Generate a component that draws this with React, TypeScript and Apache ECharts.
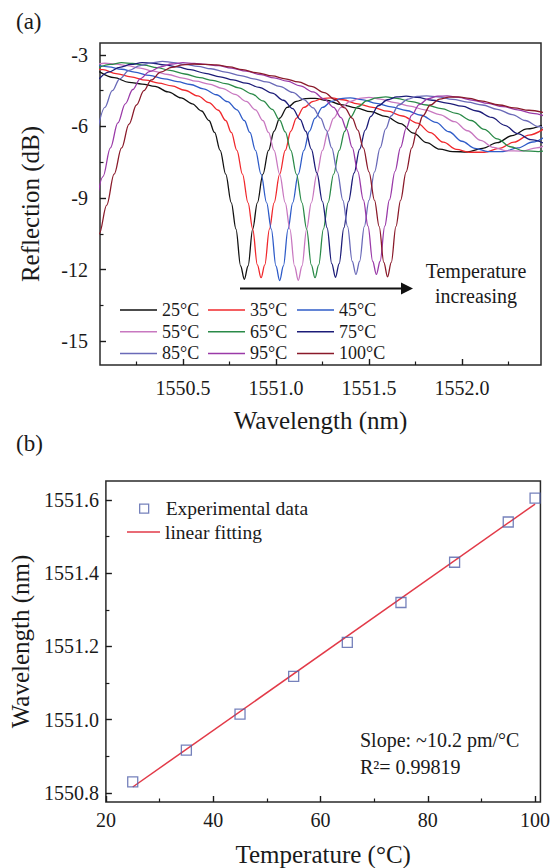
import React, { useEffect, useRef } from "react";
import * as echarts from "echarts";

// ---------- Data: panel (a) reflection spectra ----------
const TEMP_LABELS = ["25°C", "35°C", "45°C", "55°C", "65°C", "75°C", "85°C", "95°C", "100°C"];
const TEMP_COLORS = ["#111111", "#f0282c", "#2f5cc8", "#c878c0", "#2a8a48", "#1c1c78", "#6a6ab8", "#9a3aa8", "#8a1a2a"];

const S25: number[][] = [
  [1550.05, -3.7], [1550.13, -3.95], [1550.21, -4.15], [1550.28, -4.22], [1550.35, -4.32], [1550.42, -4.55],
  [1550.49, -4.8], [1550.55, -5.05], [1550.6, -5.35], [1550.64, -5.75], [1550.67, -6.25], [1550.7, -7.0],
  [1550.73, -8.0], [1550.76, -9.2], [1550.785, -10.3], [1550.81, -11.85], [1550.83, -12.41], [1550.85, -11.85],
  [1550.875, -10.3], [1550.9, -9.2], [1550.93, -8.0], [1550.96, -7.0], [1550.99, -6.2], [1551.02, -5.65],
  [1551.06, -5.2], [1551.11, -4.95], [1551.16, -4.83], [1551.21, -4.82], [1551.27, -4.9], [1551.35, -5.08],
  [1551.43, -5.22], [1551.51, -5.38], [1551.59, -5.58], [1551.67, -5.88], [1551.74, -6.28], [1551.81, -6.68],
  [1551.88, -6.95], [1551.95, -7.05], [1552.03, -7.07], [1552.11, -6.92], [1552.19, -6.68], [1552.27, -6.38],
  [1552.35, -6.1], [1552.43, -5.95],
];
const S35: number[][] = [
  [1550.0, -3.5], [1550.07, -3.62], [1550.14, -3.78], [1550.22, -3.92], [1550.3, -4.06], [1550.37, -4.18],
  [1550.44, -4.3], [1550.51, -4.48], [1550.58, -4.72], [1550.64, -5.0], [1550.69, -5.32], [1550.73, -5.75],
  [1550.76, -6.25], [1550.79, -7.0], [1550.82, -8.0], [1550.85, -9.2], [1550.875, -10.3], [1550.9, -11.8],
  [1550.92, -12.34], [1550.94, -11.8], [1550.965, -10.3], [1550.99, -9.2], [1551.02, -8.0], [1551.05, -7.0],
  [1551.08, -6.2], [1551.11, -5.65], [1551.15, -5.2], [1551.2, -4.95], [1551.25, -4.83], [1551.3, -4.8],
  [1551.36, -4.88], [1551.44, -5.05], [1551.52, -5.2], [1551.6, -5.36], [1551.68, -5.56], [1551.76, -5.86],
  [1551.83, -6.26], [1551.9, -6.66], [1551.97, -6.96], [1552.04, -7.08], [1552.12, -7.08], [1552.2, -6.92],
  [1552.28, -6.66], [1552.36, -6.36], [1552.44, -6.1],
];
const S45: number[][] = [
  [1550.04, -3.42], [1550.1, -3.5], [1550.17, -3.6], [1550.24, -3.72], [1550.32, -3.86], [1550.4, -4.0],
  [1550.47, -4.12], [1550.54, -4.24], [1550.61, -4.42], [1550.68, -4.67], [1550.74, -4.96], [1550.79, -5.3],
  [1550.83, -5.75], [1550.86, -6.25], [1550.89, -7.0], [1550.92, -8.0], [1550.95, -9.2], [1550.975, -10.3],
  [1551.0, -11.85], [1551.02, -12.46], [1551.04, -11.85], [1551.065, -10.3], [1551.09, -9.2], [1551.12, -8.0],
  [1551.15, -7.0], [1551.18, -6.2], [1551.21, -5.65], [1551.25, -5.2], [1551.3, -4.95], [1551.35, -4.83],
  [1551.4, -4.8], [1551.46, -4.87], [1551.54, -5.03], [1551.62, -5.18], [1551.7, -5.33], [1551.78, -5.53],
  [1551.86, -5.83], [1551.93, -6.22], [1552.0, -6.62], [1552.07, -6.92], [1552.14, -7.05], [1552.22, -7.05],
  [1552.3, -6.9], [1552.38, -6.65], [1552.46, -6.35],
];
const S55: number[][] = [
  [1550.02, -3.42], [1550.08, -3.35], [1550.14, -3.38], [1550.2, -3.45], [1550.27, -3.55], [1550.34, -3.68],
  [1550.42, -3.82], [1550.5, -3.97], [1550.57, -4.1], [1550.64, -4.22], [1550.71, -4.4], [1550.78, -4.65],
  [1550.84, -4.95], [1550.89, -5.3], [1550.93, -5.75], [1550.96, -6.25], [1550.99, -7.0], [1551.02, -8.0],
  [1551.05, -9.2], [1551.075, -10.3], [1551.1, -11.85], [1551.12, -12.45], [1551.14, -11.85], [1551.165, -10.3],
  [1551.19, -9.2], [1551.22, -8.0], [1551.25, -7.0], [1551.28, -6.2], [1551.31, -5.65], [1551.35, -5.2],
  [1551.4, -4.95], [1551.45, -4.82], [1551.5, -4.78], [1551.56, -4.85], [1551.64, -5.0], [1551.72, -5.15],
  [1551.8, -5.3], [1551.88, -5.5], [1551.96, -5.8], [1552.03, -6.18], [1552.1, -6.58], [1552.17, -6.88],
  [1552.24, -7.02], [1552.32, -7.03], [1552.4, -6.9], [1552.48, -6.65],
];
const S65: number[][] = [
  [1550.05, -3.52], [1550.11, -3.4], [1550.17, -3.32], [1550.23, -3.36], [1550.29, -3.43], [1550.36, -3.53],
  [1550.43, -3.65], [1550.51, -3.8], [1550.59, -3.95], [1550.66, -4.07], [1550.73, -4.2], [1550.8, -4.38],
  [1550.87, -4.63], [1550.93, -4.93], [1550.98, -5.28], [1551.02, -5.73], [1551.05, -6.23], [1551.08, -7.0],
  [1551.11, -8.0], [1551.14, -9.2], [1551.165, -10.3], [1551.19, -11.8], [1551.21, -12.34], [1551.23, -11.8],
  [1551.255, -10.3], [1551.28, -9.2], [1551.31, -8.0], [1551.34, -7.0], [1551.37, -6.2], [1551.4, -5.62],
  [1551.44, -5.17], [1551.49, -4.92], [1551.54, -4.8], [1551.59, -4.76], [1551.65, -4.82], [1551.73, -4.96],
  [1551.81, -5.1], [1551.89, -5.25], [1551.97, -5.45], [1552.05, -5.75], [1552.12, -6.12], [1552.19, -6.52],
  [1552.26, -6.85], [1552.33, -7.02], [1552.41, -7.05], [1552.49, -6.95],
];
const S75: number[][] = [
  [1550.05, -4.0], [1550.1, -3.72], [1550.16, -3.52], [1550.22, -3.4], [1550.28, -3.32], [1550.34, -3.35],
  [1550.4, -3.42], [1550.47, -3.5], [1550.54, -3.62], [1550.62, -3.77], [1550.7, -3.92], [1550.77, -4.05],
  [1550.84, -4.18], [1550.91, -4.36], [1550.98, -4.6], [1551.04, -4.9], [1551.09, -5.25], [1551.13, -5.7],
  [1551.16, -6.2], [1551.19, -6.95], [1551.22, -7.95], [1551.25, -9.15], [1551.275, -10.25], [1551.3, -11.75],
  [1551.32, -12.32], [1551.34, -11.75], [1551.365, -10.25], [1551.39, -9.15], [1551.42, -7.95], [1551.45, -6.95],
  [1551.48, -6.15], [1551.51, -5.58], [1551.55, -5.13], [1551.6, -4.88], [1551.65, -4.76], [1551.7, -4.73],
  [1551.76, -4.78], [1551.84, -4.9], [1551.92, -5.02], [1552.0, -5.15], [1552.08, -5.35], [1552.16, -5.62],
  [1552.23, -5.95], [1552.3, -6.3], [1552.37, -6.55], [1552.44, -6.7],
];
const S85: number[][] = [
  [1550.04, -6.2], [1550.08, -5.2], [1550.12, -4.5], [1550.16, -4.0], [1550.21, -3.65], [1550.27, -3.45],
  [1550.33, -3.33], [1550.39, -3.27], [1550.45, -3.32], [1550.51, -3.4], [1550.58, -3.48], [1550.65, -3.58],
  [1550.73, -3.72], [1550.81, -3.87], [1550.88, -4.0], [1550.95, -4.13], [1551.02, -4.32], [1551.09, -4.57],
  [1551.15, -4.87], [1551.2, -5.22], [1551.24, -5.65], [1551.27, -6.15], [1551.3, -6.9], [1551.33, -7.9],
  [1551.36, -9.1], [1551.385, -10.2], [1551.41, -11.65], [1551.43, -12.2], [1551.45, -11.65], [1551.475, -10.2],
  [1551.5, -9.1], [1551.53, -7.9], [1551.56, -6.9], [1551.59, -6.1], [1551.62, -5.55], [1551.66, -5.1],
  [1551.71, -4.85], [1551.76, -4.74], [1551.81, -4.72], [1551.87, -4.76], [1551.95, -4.86], [1552.03, -4.98],
  [1552.11, -5.1], [1552.19, -5.28], [1552.27, -5.5], [1552.34, -5.75], [1552.41, -6.0], [1552.48, -6.3],
];
const S95: number[][] = [
  [1550.03, -9.5], [1550.07, -8.1], [1550.11, -6.9], [1550.15, -5.85], [1550.19, -5.05], [1550.23, -4.45],
  [1550.27, -4.0], [1550.32, -3.7], [1550.38, -3.5], [1550.44, -3.38], [1550.5, -3.32], [1550.56, -3.36],
  [1550.62, -3.4], [1550.69, -3.45], [1550.76, -3.55], [1550.84, -3.68], [1550.92, -3.83], [1550.99, -3.96],
  [1551.06, -4.1], [1551.13, -4.3], [1551.2, -4.55], [1551.26, -4.85], [1551.31, -5.2], [1551.35, -5.63],
  [1551.38, -6.12], [1551.41, -6.88], [1551.44, -7.88], [1551.47, -9.08], [1551.495, -10.18], [1551.52, -11.65],
  [1551.54, -12.2], [1551.56, -11.65], [1551.585, -10.18], [1551.61, -9.08], [1551.64, -7.88], [1551.67, -6.88],
  [1551.7, -6.08], [1551.73, -5.52], [1551.77, -5.08], [1551.82, -4.83], [1551.87, -4.73], [1551.92, -4.72],
  [1551.98, -4.78], [1552.06, -4.9], [1552.14, -5.03], [1552.22, -5.17], [1552.3, -5.3], [1552.38, -5.45],
  [1552.45, -5.58],
];
const S100: number[][] = [
  [1549.98, -12.3], [1550.02, -11.4], [1550.05, -10.5], [1550.09, -9.3], [1550.13, -8.0], [1550.17, -6.9],
  [1550.21, -5.9], [1550.25, -5.1], [1550.29, -4.5], [1550.33, -4.05], [1550.38, -3.72], [1550.44, -3.52],
  [1550.5, -3.42], [1550.56, -3.38], [1550.62, -3.4], [1550.68, -3.42], [1550.75, -3.5], [1550.82, -3.62],
  [1550.9, -3.75], [1550.98, -3.88], [1551.05, -4.0], [1551.12, -4.13], [1551.19, -4.32], [1551.26, -4.58],
  [1551.32, -4.88], [1551.37, -5.22], [1551.41, -5.65], [1551.44, -6.15], [1551.47, -6.9], [1551.5, -7.9],
  [1551.53, -9.1], [1551.555, -10.2], [1551.58, -11.7], [1551.6, -12.3], [1551.62, -11.7], [1551.645, -10.2],
  [1551.67, -9.1], [1551.7, -7.9], [1551.73, -6.9], [1551.76, -6.1], [1551.79, -5.55], [1551.83, -5.1],
  [1551.88, -4.85], [1551.93, -4.77], [1551.98, -4.76], [1552.04, -4.82], [1552.1, -4.93], [1552.2, -5.1],
  [1552.28, -5.22], [1552.36, -5.32], [1552.44, -5.42],
];
const SPECTRA = [S25, S35, S45, S55, S65, S75, S85, S95, S100];

// ---------- Data: panel (b) peak wavelength vs temperature ----------
const TEMPERATURES = [25, 35, 45, 55, 65, 75, 85, 95, 100];
const PEAK_WAVELENGTHS = [1550.83, 1550.917, 1551.015, 1551.118, 1551.211, 1551.32, 1551.43, 1551.54, 1551.605];
const FIT_TEMPS = [25, 100];
const FIT_WAVELENGTHS = [1550.816, 1551.589];

// ---------- Ticks ----------
const A_X_TICKS = [1550.5, 1551.0, 1551.5, 1552.0];
const A_X_MINOR = [1550.25, 1550.75, 1551.25, 1551.75, 1552.25];
const A_Y_TICKS = [-15, -12, -9, -6, -3];
const A_Y_MINOR = [-13.5, -10.5, -7.5, -4.5];
const B_X_TICKS = [20, 40, 60, 80, 100];
const B_X_MINOR = [30, 50, 70, 90];
const B_Y_TICKS = [1550.8, 1551.0, 1551.2, 1551.4, 1551.6];
const B_Y_MINOR = [1550.9, 1551.1, 1551.3, 1551.5];

const FONT = "Liberation Serif";
const INK = "#1a1a1a";

function mainAxis(gridIndex: number, min: number, max: number, ticks: number[], margin: number, fmt: (v: number) => string, name: string, nameGap: number, isY: boolean) {
  return {
    type: "value",
    gridIndex,
    min,
    max,
    position: isY ? "left" : "bottom",
    name: "{n|" + name + "}",
    nameLocation: "middle",
    nameGap,
    nameTextStyle: {
      fontFamily: FONT,
      fontSize: 25,
      color: INK,
      rich: { n: { fontFamily: FONT, fontSize: 25, color: INK } },
    },
    axisLine: { show: false },
    splitLine: { show: false },
    axisTick: { show: true, inside: true, length: 6, customValues: ticks, lineStyle: { color: INK, width: 1.4 } },
    axisLabel: {
      show: true,
      margin,
      customValues: ticks,
      formatter: (v: number) => "{t|" + fmt(v) + "}",
      fontFamily: FONT,
      fontSize: 20,
      color: INK,
      rich: { t: { fontFamily: FONT, fontSize: 20, color: INK } },
    },
  };
}
function minorAxis(gridIndex: number, min: number, max: number, ticks: number[], isY: boolean) {
  return {
    type: "value",
    gridIndex,
    min,
    max,
    position: isY ? "left" : "bottom",
    axisLine: { show: false },
    splitLine: { show: false },
    axisLabel: { show: false },
    axisTick: { show: true, inside: true, length: 3.5, customValues: ticks, lineStyle: { color: INK, width: 1.2 } },
  };
}

export default function App() {
  const ref = useRef<HTMLDivElement>(null);
  useEffect(() => {
    if (!ref.current) return;
    const chart = echarts.init(ref.current, undefined, { renderer: "svg" });
    const fmt1 = (v: number) => v.toFixed(1);
    const fmt0 = (v: number) => String(v);

    const spectraSeries = SPECTRA.map((d, i) => ({
      type: "line",
      name: TEMP_LABELS[i],
      xAxisIndex: 0,
      yAxisIndex: 0,
      data: d,
      symbol: "none",
      showSymbol: false,
      smooth: 0.35,
      smoothMonotone: "x",
      clip: true,
      lineStyle: { color: TEMP_COLORS[i], width: 1.3 },
      itemStyle: { color: TEMP_COLORS[i] },
    }));

    const legendCommon = {
      orient: "vertical",
      padding: 0,
      itemGap: 0,
      itemWidth: 37,
      itemHeight: 21.7,
      selectedMode: false,
      icon: "path://M0,0L37,0L37,1.5L0,1.5Z",
      textStyle: { fontFamily: FONT, fontSize: 18, color: INK, lineHeight: 21.7 },
    };

    const option = {
      animation: false,
      backgroundColor: "#ffffff",
      textStyle: { fontFamily: FONT },
      grid: [
        { left: 100, top: 43, width: 441, height: 322, show: true, borderColor: "#2a2a2a", borderWidth: 1.5, backgroundColor: "transparent" },
        { left: 100, top: 481, width: 441, height: 322, show: true, borderColor: "#2a2a2a", borderWidth: 1.5, backgroundColor: "transparent" },
      ],
      xAxis: [
        mainAxis(0, 1550.054, 1552.425, A_X_TICKS, 13, fmt1, "Wavelength (nm)", 43, false),
        minorAxis(0, 1550.054, 1552.425, A_X_MINOR, false),
        mainAxis(1, 20, 101, B_X_TICKS, 8, fmt0, "Temperature (°C)", 40, false),
        minorAxis(1, 20, 101, B_X_MINOR, false),
      ],
      yAxis: [
        mainAxis(0, -16, -2.5, A_Y_TICKS, 12, fmt0, "Reflection (dB)", 57, true),
        minorAxis(0, -16, -2.5, A_Y_MINOR, true),
        mainAxis(1, 1550.775, 1551.652, B_Y_TICKS, 7, fmt1, "Wavelength (nm)", 71, true),
        minorAxis(1, 1550.775, 1551.652, B_Y_MINOR, true),
      ],
      legend: [
        { ...legendCommon, left: 120, top: 299.15, data: [TEMP_LABELS[0], TEMP_LABELS[3], TEMP_LABELS[6]] },
        { ...legendCommon, left: 208, top: 299.15, data: [TEMP_LABELS[1], TEMP_LABELS[4], TEMP_LABELS[7]] },
        { ...legendCommon, left: 297, top: 299.15, data: [TEMP_LABELS[2], TEMP_LABELS[5], TEMP_LABELS[8]] },
        {
          orient: "vertical",
          padding: 0,
          left: 127,
          top: 496,
          itemWidth: 33,
          itemHeight: 24,
          selectedMode: false,
          textStyle: { fontFamily: FONT, fontSize: 19.5, color: INK, lineHeight: 24 },
          data: [
            {
              name: "Experimental data",
              icon: "path://M0,0M33,24M12,7.5L21,7.5L21,16.5L12,16.5Z",
              itemStyle: { color: "rgba(255,255,255,0)", borderColor: "#5262aa", borderWidth: 1.3 },
            },
          ],
        },
        {
          orient: "vertical",
          padding: 0,
          left: 127,
          top: 520,
          itemWidth: 33,
          itemHeight: 24,
          selectedMode: false,
          icon: "path://M0,0L33,0L33,1.5L0,1.5Z",
          textStyle: { fontFamily: FONT, fontSize: 19.5, color: INK, lineHeight: 24 },
          data: ["linear fitting"],
        },
      ],
      series: [
        ...spectraSeries,
        {
          type: "line",
          name: "linear fitting",
          xAxisIndex: 2,
          yAxisIndex: 2,
          data: FIT_TEMPS.map((t, i) => [t, FIT_WAVELENGTHS[i]]),
          symbol: "none",
          showSymbol: false,
          lineStyle: { color: "#e23a48", width: 1.5 },
          itemStyle: { color: "#e23a48" },
          z: 2,
        },
        {
          type: "scatter",
          name: "Experimental data",
          xAxisIndex: 2,
          yAxisIndex: 2,
          data: TEMPERATURES.map((t, i) => [t, PEAK_WAVELENGTHS[i]]),
          symbol: "rect",
          symbolSize: 10,
          clip: false,
          itemStyle: { color: "rgba(255,255,255,0)", borderColor: "#5262aa", borderWidth: 1.3 },
          z: 3,
        },
      ],
      graphic: [
        { type: "text", left: 16, top: 10, style: { text: "(a)", fontFamily: FONT, fontSize: 23, fill: INK } },
        { type: "text", left: 16, top: 432, style: { text: "(b)", fontFamily: FONT, fontSize: 23, fill: INK } },
        { type: "line", shape: { x1: 240, y1: 288.5, x2: 403, y2: 288.5 }, style: { stroke: "#111", lineWidth: 2 } },
        { type: "polygon", shape: { points: [[401, 282.5], [413, 288.5], [401, 294.5]] }, style: { fill: "#111" } },
        { type: "text", x: 476, y: 271, style: { text: "Temperature", fontFamily: FONT, fontSize: 20, fill: INK, align: "center", verticalAlign: "middle" } },
        { type: "text", x: 476, y: 296, style: { text: "increasing", fontFamily: FONT, fontSize: 20, fill: INK, align: "center", verticalAlign: "middle" } },
        { type: "text", x: 360, y: 740, style: { text: "Slope: ~10.2 pm/°C", fontFamily: FONT, fontSize: 20, fill: INK, align: "left", verticalAlign: "middle" } },
        { type: "text", x: 360, y: 767, style: { text: "R²= 0.99819", fontFamily: FONT, fontSize: 20, fill: INK, align: "left", verticalAlign: "middle" } },
      ],
    };
    chart.setOption(option as any);
    return () => chart.dispose();
  }, []);
  return <div ref={ref} style={{ position: "fixed", left: 0, top: 0, width: 553, height: 868, background: "#fff" }} />;
}
